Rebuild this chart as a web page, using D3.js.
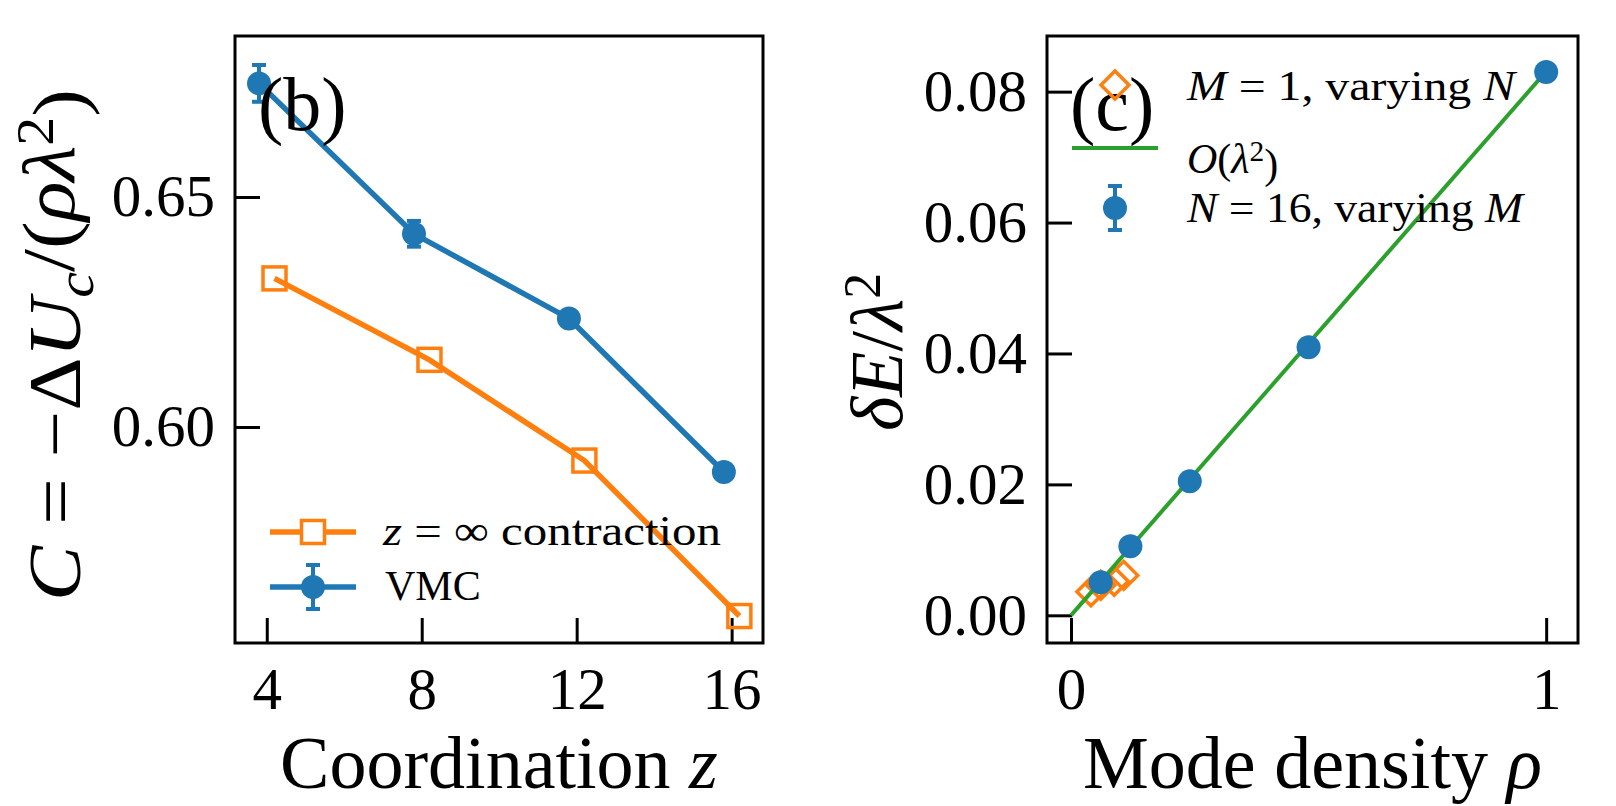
<!DOCTYPE html>
<meta charset="utf-8">
<script src="https://d3js.org/d3.v7.min.js"></script>
<style>
  body { margin: 0; background: #fff; }
  text { font-family: "Liberation Serif", "Times New Roman", serif; fill: #000; }
</style>
<div id="chart"></div>
<script>

// ---- data (panel b) ----
var zVals = [4, 8, 12, 16];
var zShift = 0.2;   // points are nudged left/right of each z in the original
var vmcC = [0.6747, 0.6420, 0.6236, 0.5902];
var vmcErr = [0.0040, 0.0028, 0.0008, 0.0008];
var contrC = [0.6323, 0.6146, 0.5927, 0.5589];
var yTicksB = [0.60, 0.65];

// ---- data (panel c) ----
var rhoVMC = [0.0625, 0.125, 0.25, 0.5, 1];
var dEVMC = [0.00504, 0.01056, 0.02047, 0.04095, 0.0830];
var dEErr = [0.0002, 0.0002, 0.0003, 0.0003, 0.0003];
var rhoM1 = [0.042, 0.0625, 0.091, 0.111];
var dEM1 = [0.0036, 0.0046, 0.0052, 0.0061];
var fitRho = [0, 1];
var fitDE = [0, 0.0831];
var xTicksC = [0, 1];
var yTicksC = [0, 0.02, 0.04, 0.06, 0.08];

var blue = "#1f77b4", orange = "#ff7f0e", green = "#2ca02c";

var svg = d3.select("#chart").append("svg")
  .attr("width", 1616)
  .attr("height", 806);

// write a piece of maths: list of [text, italic, "sub"/"sup"]
function mathText(sel, parts) {
  var shift = 0;
  parts.forEach(function(p) {
    var t = sel.append("tspan").text(p[0]);
    if (p[1]) t.style("font-style", "italic");
    var want = p[2] == "sub" ? 0.25 : p[2] == "sup" ? -0.42 : 0;
    if (want != shift) t.attr("dy", (want - shift) + "em");
    if (p[2]) t.style("font-size", "70%");
    shift = want;
  });
  return sel;
}

// stretch a text to the width the original's wider font gives it
function widen(sel, w) {
  sel.attr("textLength", w).attr("lengthAdjust", "spacingAndGlyphs");
}

function styleAxis(g) {
  g.select(".domain").remove();
  g.selectAll(".tick line").attr("stroke", "#000").attr("stroke-width", 3);
  g.selectAll(".tick text")
    .attr("font-family", "Liberation Serif, serif")
    .attr("font-size", 59)
    .attr("fill", "#000");
}

// ================= panel (b) =================
var bx0 = 235, bx1 = 763, by0 = 36, by1 = 643;
var xB = d3.scaleLinear().domain([3.18, 16.81]).range([bx0, bx1]);
var yB = d3.scaleLinear().domain([0.55304, 0.6850]).range([by1, by0]);

var pB = svg.append("g");

pB.append("g")
  .attr("transform", "translate(0," + by1 + ")")
  .call(d3.axisBottom(xB).tickValues(zVals).tickSize(-25).tickPadding(24))
  .call(styleAxis);

pB.append("g")
  .attr("transform", "translate(" + bx0 + ",0)")
  .call(d3.axisLeft(yB).tickValues(yTicksB).tickSize(-25).tickPadding(20)
    .tickFormat(d3.format(".2f")))
  .call(styleAxis);

// contraction line + hollow squares
var contr = zVals.map(function(z, i) { return [z + zShift, contrC[i]]; });
var vmc = zVals.map(function(z, i) { return [z - zShift, vmcC[i], vmcErr[i]]; });

var lineB = d3.line()
  .x(function(d) { return xB(d[0]); })
  .y(function(d) { return yB(d[1]); });

pB.append("path").datum(contr)
  .attr("d", lineB)
  .attr("fill", "none").attr("stroke", orange).attr("stroke-width", 5.5);

pB.selectAll(".sq").data(contr).enter().append("rect")
  .attr("x", function(d) { return xB(d[0]) - 11.5; })
  .attr("y", function(d) { return yB(d[1]) - 11.5; })
  .attr("width", 23).attr("height", 23)
  .attr("fill", "none").attr("stroke", orange).attr("stroke-width", 3.5);

pB.append("path").datum(vmc)
  .attr("d", lineB)
  .attr("fill", "none").attr("stroke", blue).attr("stroke-width", 5.5);

// error bars
var eb = pB.selectAll(".eb").data(vmc).enter().append("g");
eb.append("line")
  .attr("x1", function(d) { return xB(d[0]); })
  .attr("x2", function(d) { return xB(d[0]); })
  .attr("y1", function(d) { return yB(d[1] - d[2]); })
  .attr("y2", function(d) { return yB(d[1] + d[2]); })
  .attr("stroke", blue).attr("stroke-width", 4);
[-1, 1].forEach(function(s) {
  eb.append("line")
    .attr("x1", function(d) { return xB(d[0]) - 7; })
    .attr("x2", function(d) { return xB(d[0]) + 7; })
    .attr("y1", function(d) { return yB(d[1] + s * d[2]); })
    .attr("y2", function(d) { return yB(d[1] + s * d[2]); })
    .attr("stroke", blue).attr("stroke-width", 4);
});

pB.selectAll(".dot").data(vmc).enter().append("circle")
  .attr("cx", function(d) { return xB(d[0]); })
  .attr("cy", function(d) { return yB(d[1]); })
  .attr("r", 12)
  .attr("fill", blue);

// frame
pB.append("rect")
  .attr("x", bx0).attr("y", by0)
  .attr("width", bx1 - bx0).attr("height", by1 - by0)
  .attr("fill", "none").attr("stroke", "#000").attr("stroke-width", 3);

// panel label
pB.append("text").attr("x", 258).attr("y", 130)
  .attr("font-size", 76).text("(b)");

// legend (b)
var lgB = pB.append("g").attr("font-size", 42);
lgB.append("line").attr("x1", 270).attr("x2", 356).attr("y1", 532).attr("y2", 532)
  .attr("stroke", orange).attr("stroke-width", 5.5);
lgB.append("rect").attr("x", 313 - 11.5).attr("y", 532 - 11.5)
  .attr("width", 23).attr("height", 23)
  .attr("fill", "#fff").attr("stroke", orange).attr("stroke-width", 3.5);
mathText(lgB.append("text").attr("x", 383).attr("y", 545), [["z", true], [" = ∞ contraction"]])
  .call(widen, 338);

lgB.append("line").attr("x1", 270).attr("x2", 356).attr("y1", 587).attr("y2", 587)
  .attr("stroke", blue).attr("stroke-width", 5.5);
lgB.append("line").attr("x1", 313).attr("x2", 313).attr("y1", 565).attr("y2", 609)
  .attr("stroke", blue).attr("stroke-width", 4);
[565, 609].forEach(function(y) {
  lgB.append("line").attr("x1", 306).attr("x2", 320).attr("y1", y).attr("y2", y)
    .attr("stroke", blue).attr("stroke-width", 4);
});
lgB.append("circle").attr("cx", 313).attr("cy", 587).attr("r", 12).attr("fill", blue);
lgB.append("text").attr("x", 385).attr("y", 600).text("VMC");

// axis labels (b)
pB.append("text").attr("x", (bx0 + bx1) / 2).attr("y", 788)
  .attr("text-anchor", "middle").attr("font-size", 74)
  .call(function(t) { mathText(t, [["Coordination "], ["z", true]]); });

pB.append("text")
  .attr("transform", "translate(80," + 345 + ") rotate(-90)")
  .attr("text-anchor", "middle").attr("font-size", 74)
  .call(function(t) {
    mathText(t, [["C", true], [" = −Δ"], ["U", true], ["c", true, "sub"],
      ["/("], ["ρλ", true], ["2", false, "sup"], [")"]]);
  })
  .call(widen, 512);

// ================= panel (c) =================
var cx0 = 1047, cx1 = 1578, cy0 = 36, cy1 = 643;
var xC = d3.scaleLinear().domain([-0.0505, 1.067]).range([cx0, cx1]);
var yC = d3.scaleLinear().domain([-0.00423, 0.0885]).range([cy1, cy0]);

var pC = svg.append("g");

pC.append("g")
  .attr("transform", "translate(0," + cy1 + ")")
  .call(d3.axisBottom(xC).tickValues(xTicksC).tickSize(-25).tickPadding(24)
    .tickFormat(d3.format("d")))
  .call(styleAxis);

pC.append("g")
  .attr("transform", "translate(" + cx0 + ",0)")
  .call(d3.axisLeft(yC).tickValues(yTicksC).tickSize(-25).tickPadding(20)
    .tickFormat(d3.format(".2f")))
  .call(styleAxis);

// M = 1 diamonds
function diamond(r) {
  return "M0," + (-r) + "L" + r + ",0L0," + r + "L" + (-r) + ",0Z";
}
pC.selectAll(".dm").data(rhoM1).enter().append("path")
  .attr("d", diamond(14))
  .attr("transform", function(d, i) {
    return "translate(" + xC(d) + "," + yC(dEM1[i]) + ")";
  })
  .attr("fill", "none").attr("stroke", orange).attr("stroke-width", 3.5);

// O(lambda^2) line
var fit = fitRho.map(function(r, i) { return [r, fitDE[i]]; });
pC.append("path").datum(fit)
  .attr("d", d3.line()
    .x(function(d) { return xC(d[0]); })
    .y(function(d) { return yC(d[1]); }))
  .attr("fill", "none").attr("stroke", green).attr("stroke-width", 4);

// N = 16 points with error bars
var vm = rhoVMC.map(function(r, i) { return [r, dEVMC[i], dEErr[i]]; });
var ebC = pC.selectAll(".ebc").data(vm).enter().append("g");
ebC.append("line")
  .attr("x1", function(d) { return xC(d[0]); })
  .attr("x2", function(d) { return xC(d[0]); })
  .attr("y1", function(d) { return yC(d[1] - d[2]); })
  .attr("y2", function(d) { return yC(d[1] + d[2]); })
  .attr("stroke", blue).attr("stroke-width", 4);
pC.selectAll(".dotc").data(vm).enter().append("circle")
  .attr("cx", function(d) { return xC(d[0]); })
  .attr("cy", function(d) { return yC(d[1]); })
  .attr("r", 12)
  .attr("fill", blue);

pC.append("rect")
  .attr("x", cx0).attr("y", cy0)
  .attr("width", cx1 - cx0).attr("height", cy1 - cy0)
  .attr("fill", "none").attr("stroke", "#000").attr("stroke-width", 3);

pC.append("text").attr("x", 1070).attr("y", 130)
  .attr("font-size", 76).text("(c)");

// legend (c)
var lgC = pC.append("g").attr("font-size", 42);
lgC.append("path").attr("d", diamond(14))
  .attr("transform", "translate(1115,85)")
  .attr("fill", "none").attr("stroke", orange).attr("stroke-width", 3.5);
mathText(lgC.append("text").attr("x", 1187).attr("y", 100),
  [["M", true], [" = 1, varying "], ["N", true]])
  .call(widen, 328);

lgC.append("line").attr("x1", 1072).attr("x2", 1158).attr("y1", 148).attr("y2", 148)
  .attr("stroke", green).attr("stroke-width", 4);
mathText(lgC.append("text").attr("x", 1187).attr("y", 173),
  [["O", true], ["("], ["λ", true], ["2", false, "sup"], [")"]]);

lgC.append("line").attr("x1", 1115).attr("x2", 1115).attr("y1", 186).attr("y2", 230)
  .attr("stroke", blue).attr("stroke-width", 4);
[186, 230].forEach(function(y) {
  lgC.append("line").attr("x1", 1108).attr("x2", 1122).attr("y1", y).attr("y2", y)
    .attr("stroke", blue).attr("stroke-width", 4);
});
lgC.append("circle").attr("cx", 1115).attr("cy", 208).attr("r", 12).attr("fill", blue);
mathText(lgC.append("text").attr("x", 1187).attr("y", 222),
  [["N", true], [" = 16, varying "], ["M", true]])
  .call(widen, 336);

// axis labels (c)
pC.append("text").attr("x", (cx0 + cx1) / 2).attr("y", 788)
  .attr("text-anchor", "middle").attr("font-size", 74)
  .call(function(t) { mathText(t, [["Mode density "], ["ρ", true]]); });

pC.append("text")
  .attr("transform", "translate(902," + 352 + ") rotate(-90)")
  .attr("text-anchor", "middle").attr("font-size", 74)
  .call(function(t) {
    mathText(t, [["δ", true], ["E", true], ["/"], ["λ", true], ["2", false, "sup"]]);
  });

</script>
